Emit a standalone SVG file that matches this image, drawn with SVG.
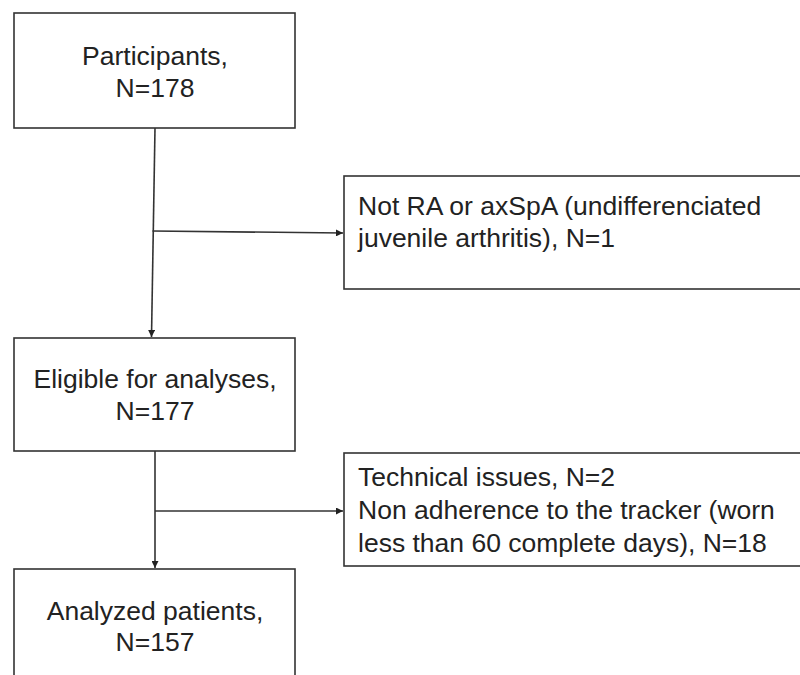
<svg xmlns="http://www.w3.org/2000/svg" width="800" height="675" viewBox="0 0 800 675">
<style>
.box{fill:#fff;stroke:#333;stroke-width:1.6}
.t{font-family:"Liberation Sans",Arial,sans-serif;font-size:26.5px;fill:#222}
.c{text-anchor:middle}
.ln{fill:none;stroke:#333;stroke-width:1.6}
</style>
<defs>
<marker id="ah" viewBox="0 0 10 10" refX="10" refY="5" markerWidth="9" markerHeight="7" markerUnits="userSpaceOnUse" orient="auto">
<path d="M0,0 L10,5 L0,10 z" fill="#222"/>
</marker>
</defs>
<rect width="800" height="675" fill="#fff"/>
<g id="participants">
<rect class="box" x="14" y="13" width="281" height="115"/>
<text class="t c" x="155" y="65">Participants,</text>
<text class="t c" x="155" y="97">N=178</text>
</g>
<g id="excluded1">
<rect class="box" x="344" y="176" width="470" height="113"/>
<text class="t" x="358" y="215">Not RA or axSpA (undifferenciated</text>
<text class="t" x="358" y="247">juvenile arthritis), N=1</text>
</g>
<g id="eligible">
<rect class="box" x="14" y="338" width="281" height="113"/>
<text class="t c" x="155" y="388">Eligible for analyses,</text>
<text class="t c" x="155" y="420">N=177</text>
</g>
<g id="excluded2">
<rect class="box" x="344" y="453" width="470" height="113"/>
<text class="t" x="358" y="486">Technical issues, N=2</text>
<text class="t" x="358" y="519">Non adherence to the tracker (worn</text>
<text class="t" x="358" y="551.5">less than 60 complete days), N=18</text>
</g>
<g id="analyzed">
<rect class="box" x="14" y="569" width="281" height="120"/>
<text class="t c" x="155" y="620">Analyzed patients,</text>
<text class="t c" x="155" y="651">N=157</text>
</g>
<g id="connectors">
<path class="ln" d="M155,128 L151.5,337" marker-end="url(#ah)"/>
<path class="ln" d="M152.5,231 L343,233" marker-end="url(#ah)"/>
<path class="ln" d="M155,451 L155,568" marker-end="url(#ah)"/>
<path class="ln" d="M155,511 L343,511" marker-end="url(#ah)"/>
</g>
</svg>
